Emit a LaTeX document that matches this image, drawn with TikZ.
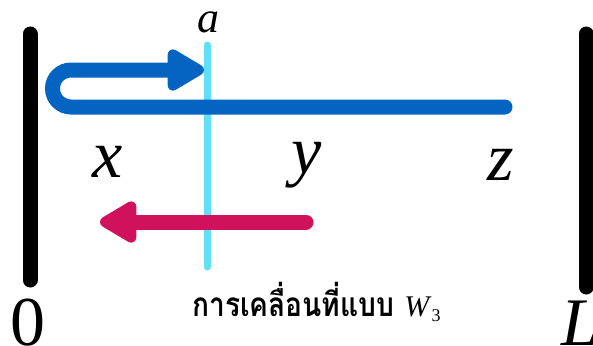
\documentclass[tikz,border=0pt]{standalone}
\usepackage{fontspec}
\setmainfont{Liberation Serif}
\newfontfamily\thaifont[Script=Thai]{Loma}
\usepackage{tikz}
\usetikzlibrary{arrows.meta, positioning}
\definecolor{pathblue}{RGB}{5,99,193}
\definecolor{backred}{RGB}{208,18,92}
\definecolor{markcyan}{RGB}{95,223,248}

\begin{document}
\begin{tikzpicture}[x=1pt, y=-1pt,
    wall/.style={line width=15pt, line cap=round, black},
    bigvar/.style={font=\fontsize{68}{68}\selectfont\itshape, anchor=base, inner sep=0pt},
    move/.style={line width=15pt, line cap=round, -{Triangle[round, length=42pt, width=46pt]}}]
    \useasboundingbox (0,0) rectangle (593,345);
    % walls and the mark at a
    \coordinate (w0top) at (30,34);
    \coordinate (w0bot) at (30,280);
    \coordinate (wLtop) at (586,34);
    \coordinate (wLbot) at (586,287);
    \draw[wall] (w0top) -- (w0bot);
    \draw[wall] (wLtop) -- (wLbot);
    \coordinate (atop) at (207,45);
    \coordinate (abot) at (207,267);
    \draw[markcyan, line width=7pt, line cap=round] (atop) -- (abot);
    % labels
    \node[bigvar, font=\fontsize{44}{44}\selectfont\itshape] (lbla) at (208,33) {a};
    \node[bigvar] (lblx) at (108,177) {x};
    \node[bigvar] (lbly) at (307,173) {y};
    \node[bigvar] (lblz) at (501,180) {z};
    \node[bigvar, font=\fontsize{70}{70}\selectfont] (lbl0) at (28,345) {0};
    \node[bigvar] (lblL) at (580,345) {L};
    \node[anchor=base west, inner sep=0pt, font=\fontsize{30}{30}\selectfont] (title) at (192,316)
      {\scalebox{0.97}[1.15]{\thaifont\bfseries\fontsize{29}{30}\selectfont การเคลื่อนที่แบบ}\hspace{10pt}\textit{W}\raisebox{-5pt}{\fontsize{18}{18}\selectfont 3}};
    % moves
    \coordinate (bstart) at (505,107);
    \coordinate (bturn) at (71,107);
    \coordinate (btip) at (204,70);
    \draw[move, pathblue] (bstart) -- (bturn) arc[start angle=90, end angle=270, radius=18.5] -- (btip);
    \coordinate (rstart) at (306,222);
    \coordinate (rtip) at (100,222);
    \draw[move, backred] (rstart) -- (rtip);
\end{tikzpicture}
\end{document}
